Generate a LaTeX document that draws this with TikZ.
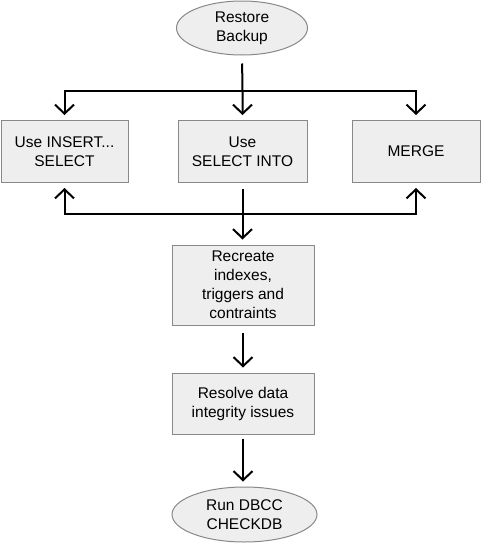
\documentclass[tikz,border=0pt]{standalone}
\usepackage{fontspec}
\setmainfont{Liberation Sans}
\usetikzlibrary{shapes.geometric,arrows.meta}
\definecolor{boxfill}{HTML}{EEEEEE}
\definecolor{boxline}{HTML}{888888}
\begin{document}
\begin{tikzpicture}[x=1pt,y=-1pt,
  box/.style={draw=boxline,fill=boxfill,line width=1pt,rectangle,inner sep=0pt,align=center,text=black,font=\fontsize{15.5}{19}\selectfont},
  oval/.style={box,ellipse},
  conn/.style={line width=2pt,draw=black},
  arr/.style={conn,-{Straight Barb[length=9pt,width=19pt]},shorten >=5pt}]
\useasboundingbox (0,0) rectangle (481,544);
\node[oval,minimum width=131pt,minimum height=54pt] (start) at (242,28) {Restore\\Backup};
\node[box,minimum width=127pt,minimum height=62pt] (b1) at (64.5,151.5) {Use INSERT...\\SELECT};
\node[box,minimum width=129pt,minimum height=62pt] (b2) at (242.5,151.5) {Use\\SELECT INTO};
\node[box,minimum width=128pt,minimum height=62pt] (b3) at (416,151.5) {MERGE};
\node[box,minimum width=142pt,minimum height=80pt] (b4) at (243,285) {Recreate\\indexes,\\triggers and\\contraints};
\node[box,minimum width=142pt,minimum height=61pt] (b5) at (243,403.5) {Resolve data\\integrity issues};
\node[oval,minimum width=145pt,minimum height=55pt] (end) at (244.5,514.5) {Run DBCC\\CHECKDB};
\coordinate (j1) at (242.5,91);
\coordinate (j2) at (242.5,214);
\draw[arr,shorten <=8pt] (start.south) -- (j1) -- (j1 |- b2.north);
\draw[arr] (j1) -| (b1.north);
\draw[arr] (j1) -| (b3.north);
\draw[conn,shorten <=6pt] (j2 |- b2.south) -- (j2);
\draw[arr] (j2) -| (b1.south);
\draw[arr] (j2) -| (b3.south);
\draw[arr] (j2) -- (j2 |- b4.north);
\draw[arr,shorten <=7pt] (b4.south) -- (b5.north);
\draw[arr,shorten <=4pt] (b5.south) -- (b5.south |- end.north);
\end{tikzpicture}
\end{document}
